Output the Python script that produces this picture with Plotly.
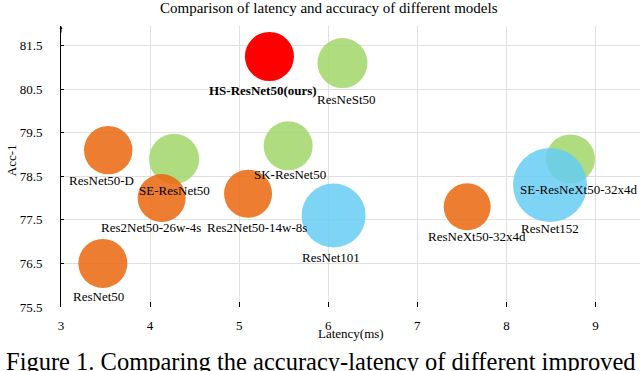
import plotly.graph_objects as go

# data
models = ['ResNet50', 'ResNet50-D', 'SE-ResNet50', 'Res2Net50-26w-4s', 'Res2Net50-14w-8s',
          'SK-ResNet50', 'ResNet101', 'HS-ResNet50(ours)', 'ResNeSt50', 'ResNeXt50-32x4d',
          'ResNet152', 'SE-ResNeXt50-32x4d']
latency = [3.47, 3.53, 4.27, 4.13, 5.10, 5.55, 6.06, 5.34, 6.16, 7.56, 8.49, 8.72]
acc = [76.5, 79.1, 78.9, 78.0, 78.1, 79.2, 77.6, 81.25, 81.1, 77.8, 78.3, 78.9]
params = [25.6, 25.0, 26.7, 24.6, 24.6, 25.6, 43.7, 25.6, 26.7, 23.5, 58.4, 25.6]
group = ['base', 'base', 'attn', 'base', 'base', 'attn', 'deep', 'ours', 'attn', 'base', 'deep', 'attn']

x_ticks = [3, 4, 5, 6, 7, 8, 9]
y_ticks = [75.5, 76.5, 77.5, 78.5, 79.5, 80.5, 81.5]

# label nudges in px (text centre relative to bubble centre / bubble bottom)
label_dx = [-4, -7, 0, -11, 9, 2, -3, -6, 4, 10, 0, 8]
label_dy = [9, 6, 7, 5, 10, 4, 10, 9, 11, 6, 6, 6]

COLORS = {'attn': '#A2D66A', 'base': '#EA660D', 'deep': '#66CCF3', 'ours': '#FF0000'}
OPACITY = {'attn': 0.85, 'base': 0.85, 'deep': 0.85, 'ours': 1.0}
FONT = 'Liberation Serif'

sizeref = 2 * 25.6 / 49 ** 2

fig = go.Figure()

# draw groups in stacking order
for g in ['attn', 'base', 'deep', 'ours']:
    idx = [i for i, v in enumerate(group) if v == g]
    fig.add_trace(go.Scatter(
        x=[latency[i] for i in idx],
        y=[acc[i] for i in idx],
        mode='markers',
        marker=dict(size=[params[i] for i in idx], sizemode='area', sizeref=sizeref,
                    color=COLORS[g], opacity=OPACITY[g], line_width=0),
        text=[models[i] for i in idx],
        hovertemplate='%{text}<br>%{x} ms, %{y}<extra></extra>',
        showlegend=False
    ))

# data labels under each bubble
for i, name in enumerate(models):
    r = (params[i] / 2 / sizeref) ** 0.5
    txt = f'<b>{name}</b>' if group[i] == 'ours' else name
    fig.add_annotation(
        x=latency[i], y=acc[i], text=txt, showarrow=False,
        xshift=label_dx[i], yshift=-(r + label_dy[i]),
        font=dict(family=FONT, size=13, color='black'),
        xanchor='center', yanchor='middle'
    )

# title, axis titles, caption
fig.add_annotation(text='Comparison of latency and accuracy of different models',
                   x=0.463, y=1.064, xref='paper', yref='paper', showarrow=False,
                   font=dict(family=FONT, size=15, color='black'),
                   xanchor='center', yanchor='middle')
fig.add_annotation(text='Latency(ms)', x=0.5, y=-0.096, xref='paper', yref='paper',
                   showarrow=False, font=dict(family=FONT, size=13, color='black'),
                   xanchor='center', yanchor='middle')
fig.add_annotation(text='Acc-1', x=-0.086, y=0.523, xref='paper', yref='paper',
                   showarrow=False, textangle=-90,
                   font=dict(family=FONT, size=13, color='black'),
                   xanchor='center', yanchor='middle')
fig.add_annotation(text='Figure 1. Comparing the accuracy-latency of different improved',
                   x=-0.099, y=-0.195, xref='paper', yref='paper', showarrow=False,
                   font=dict(family=FONT, size=24.5, color='black'),
                   xanchor='left', yanchor='middle')

# little arrow at the top of the y axis
fig.add_annotation(x=3, y=81.95, ax=0, ay=8, text='', showarrow=True,
                   arrowhead=2, arrowsize=0.6, arrowwidth=1, arrowcolor='black')

fig.update_layout(
    width=640, height=371,
    margin=dict(l=61, r=0, t=26, b=64),
    plot_bgcolor='white', paper_bgcolor='white',
    xaxis=dict(range=[3, 9.5], tickvals=x_ticks, ticktext=[str(t) for t in x_ticks],
               showgrid=True, gridcolor='#E0E0E0', gridwidth=1, zeroline=False,
               showline=False, ticks='inside', ticklen=5, tickcolor='black',
               ticklabelstandoff=9,
               tickfont=dict(family=FONT, size=13, color='black')),
    yaxis=dict(range=[75.5, 81.95], tickvals=y_ticks,
               ticktext=[f'{t:.1f}' for t in y_ticks],
               showgrid=True, gridcolor='#E0E0E0', gridwidth=1, zeroline=False,
               showline=True, linecolor='black', linewidth=1,
               ticks='inside', ticklen=3, tickcolor='black',
               ticklabelstandoff=15,
               tickfont=dict(family=FONT, size=13, color='black')),
)

# drop the default page margin so the figure sits at the window's corner
fig.write_html('out.html', config={'displayModeBar': False},
               post_script="document.body.style.margin='0';")
